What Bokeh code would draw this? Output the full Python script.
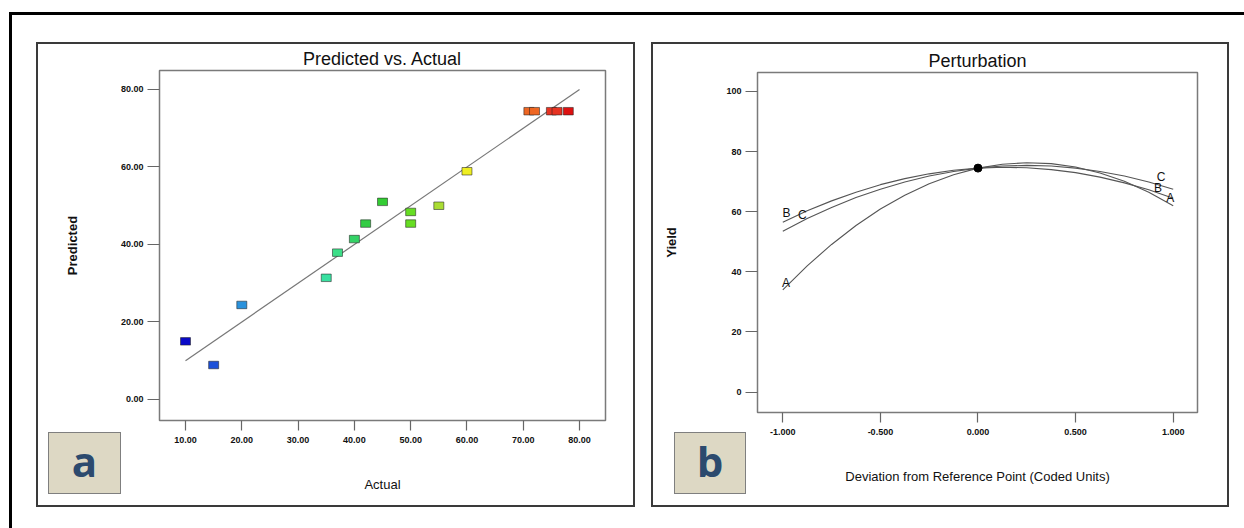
from bokeh.plotting import figure
from bokeh.models import Range1d, FixedTicker, ColumnDataSource, Spacer, NumeralTickFormatter, Div
from bokeh.layouts import row, column
from bokeh.embed import file_html
from bokeh.resources import INLINE
from bokeh.core.properties import value

# ---------------- data: panel a (Predicted vs. Actual) ----------------
actual = [10, 15, 20, 35, 37, 40, 42, 45, 50, 50, 55, 60, 71, 72, 75, 76, 78]
predicted = [15.0, 8.9, 24.4, 31.4, 37.9, 41.4, 45.4, 51.0, 48.4, 45.4, 50.0, 58.9,
             74.4, 74.4, 74.4, 74.4, 74.4]
point_colors = ["#0a0ac8", "#1c50d8", "#2a92dc", "#38e0a0", "#3cde88", "#34d266",
                "#33cc44", "#33cc33", "#66dd22", "#66dd22", "#aadd33", "#eeee22",
                "#ee6622", "#ee6622", "#e63322", "#e63322", "#dd1111"]
fit_x = [10, 80]
fit_y = [10, 80]
a_xticks = [10, 20, 30, 40, 50, 60, 70, 80]
a_yticks = [0, 20, 40, 60, 80]

# ---------------- data: panel b (Perturbation) ----------------
deviation = [-1.0, -0.875, -0.75, -0.625, -0.5, -0.375, -0.25, -0.125, 0.0,
             0.125, 0.25, 0.375, 0.5, 0.625, 0.75, 0.875, 1.0]
yield_A = [34.0, 42.0, 49.1, 55.4, 60.9, 65.5, 69.3, 72.3, 74.5,
           75.8, 76.3, 76.0, 74.9, 72.9, 70.1, 66.5, 62.0]
yield_B = [56.5, 60.3, 63.6, 66.5, 69.0, 71.0, 72.6, 73.8, 74.5,
           74.8, 74.6, 74.0, 73.0, 71.5, 69.6, 67.3, 64.5]
yield_C = [53.5, 57.7, 61.4, 64.7, 67.5, 69.9, 71.9, 73.4, 74.5,
           75.2, 75.4, 75.2, 74.5, 73.4, 71.9, 69.9, 67.5]
ref_x = [0.0]
ref_y = [74.5]
curve_label_text = ["B", "C", "A", "C", "B", "A"]
curve_label_x = [-0.981, -0.90, -0.983, 0.938, 0.922, 0.985]
curve_label_y = [59.7, 59.0, 36.4, 71.7, 68.0, 64.7]
b_xticks = [-1.0, -0.5, 0.0, 0.5, 1.0]
b_yticks = [0, 20, 40, 60, 80, 100]

panel_letters = ["a", "b"]

FONT = "Liberation Sans"


def style_axes(p, x_fmt, y_fmt):
    for ax, out, fmt in ((p.xaxis[0], 10, x_fmt), (p.yaxis[0], 12, y_fmt)):
        ax.axis_line_color = None
        ax.major_tick_line_color = "#666666"
        ax.major_tick_line_width = 1.2
        ax.major_tick_out = out
        ax.major_tick_in = 0
        ax.minor_tick_line_color = None
        ax.major_label_text_font = FONT
        ax.major_label_text_font_style = "bold"
        ax.major_label_text_font_size = "9px"
        ax.major_label_text_color = "#111111"
        ax.formatter = NumeralTickFormatter(format=fmt)
    p.xaxis[0].major_label_standoff = 6
    p.yaxis[0].major_label_standoff = 4
    p.xaxis[0].axis_label_text_font = FONT
    p.xaxis[0].axis_label_text_font_style = "normal"
    p.xaxis[0].axis_label_text_font_size = "13px"
    p.xaxis[0].axis_label_text_color = "#111111"
    p.xaxis[0].axis_label_standoff = 31
    p.yaxis[0].axis_label_text_font = FONT
    p.yaxis[0].axis_label_text_font_style = "bold"
    p.yaxis[0].axis_label_text_font_size = "13px"
    p.yaxis[0].axis_label_text_color = "#111111"
    p.grid.visible = False
    p.outline_line_color = "#7a7a7a"
    p.outline_line_width = 1.5
    p.title.align = "center"
    p.title.text_font = FONT
    p.title.text_font_style = "normal"
    p.title.text_font_size = "18px"
    p.title.text_color = "#111111"
    p.title.standoff = 3


def make_badge(letter, left, top, width):
    return Div(text=letter, width=width, height=62,
               styles={"position": "absolute", "left": f"{left}px", "top": f"{top}px",
                       "box-sizing": "border-box", "background-color": "#ddd8c4",
                       "border": "1.5px solid #7f7f7f", "font-family": "Open Sans",
                       "font-weight": "bold", "font-size": "42px", "color": "#2c4a6e",
                       "text-align": "center", "line-height": "56px", "overflow": "hidden"})


# ---------------- panel a ----------------
fig_a = figure(width=595, height=461, min_border_left=121, min_border_right=28,
               min_border_top=26, min_border_bottom=85,
               x_range=Range1d(5.38, 84.61), y_range=Range1d(-5.42, 84.9),
               title="Predicted vs. Actual", output_backend="svg", toolbar_location=None)
style_axes(fig_a, "0.00", "0.00")
fig_a.xaxis.ticker = FixedTicker(ticks=a_xticks)
fig_a.yaxis.ticker = FixedTicker(ticks=a_yticks)
fig_a.xaxis.axis_label = "Actual"
fig_a.yaxis.axis_label = "Predicted"
fig_a.yaxis.axis_label_standoff = 38

fig_a.line(fit_x, fit_y, line_color="#777777", line_width=1.2)
src_a = ColumnDataSource(dict(x=actual, y=predicted, c=point_colors))
fig_a.rect(x="x", y="y", width=10, height=7.5, width_units="screen", height_units="screen",
           fill_color="c", line_color="#222222", line_alpha=0.55, line_width=1, source=src_a)

# ---------------- panel b ----------------
fig_b = figure(width=574, height=461, min_border_left=104, min_border_right=30,
               min_border_top=28, min_border_bottom=93,
               x_range=Range1d(-1.1296, 1.1245), y_range=Range1d(-6.82, 106.32),
               title="Perturbation", output_backend="svg", toolbar_location=None)
style_axes(fig_b, "0.000", "0")
fig_b.xaxis.ticker = FixedTicker(ticks=b_xticks)
fig_b.yaxis.ticker = FixedTicker(ticks=b_yticks)
fig_b.xaxis.axis_label = "Deviation from Reference Point (Coded Units)"
fig_b.yaxis.axis_label = "Yield"
fig_b.yaxis.axis_label_standoff = 44

for ys in (yield_A, yield_B, yield_C):
    fig_b.line(deviation, ys, line_color="#555555", line_width=1.1)
fig_b.scatter(ref_x, ref_y, size=8, fill_color="#000000", line_color="#000000")
fig_b.text(x=curve_label_x, y=curve_label_y, text=curve_label_text,
           text_font=value(FONT), text_font_size="12px", text_color="#111111",
           text_align="center", text_baseline="middle")

box_style = {"border": "2px solid #3a3a3a", "position": "relative"}
panel_a = column(fig_a, make_badge(panel_letters[0], 5, 383, 73), styles=box_style)
panel_b = column(fig_b, make_badge(panel_letters[1], 16, 383, 72), styles=box_style)

inner = row(Spacer(width=24), panel_a, Spacer(width=16), panel_b, Spacer(width=15))
root = column(Spacer(height=27), inner, Spacer(height=21),
              styles={"border-top": "3px solid #000000", "border-left": "3px solid #000000",
                      "margin-left": "9px", "margin-top": "12px"})

open("out.html", "w").write(file_html(root, INLINE))
